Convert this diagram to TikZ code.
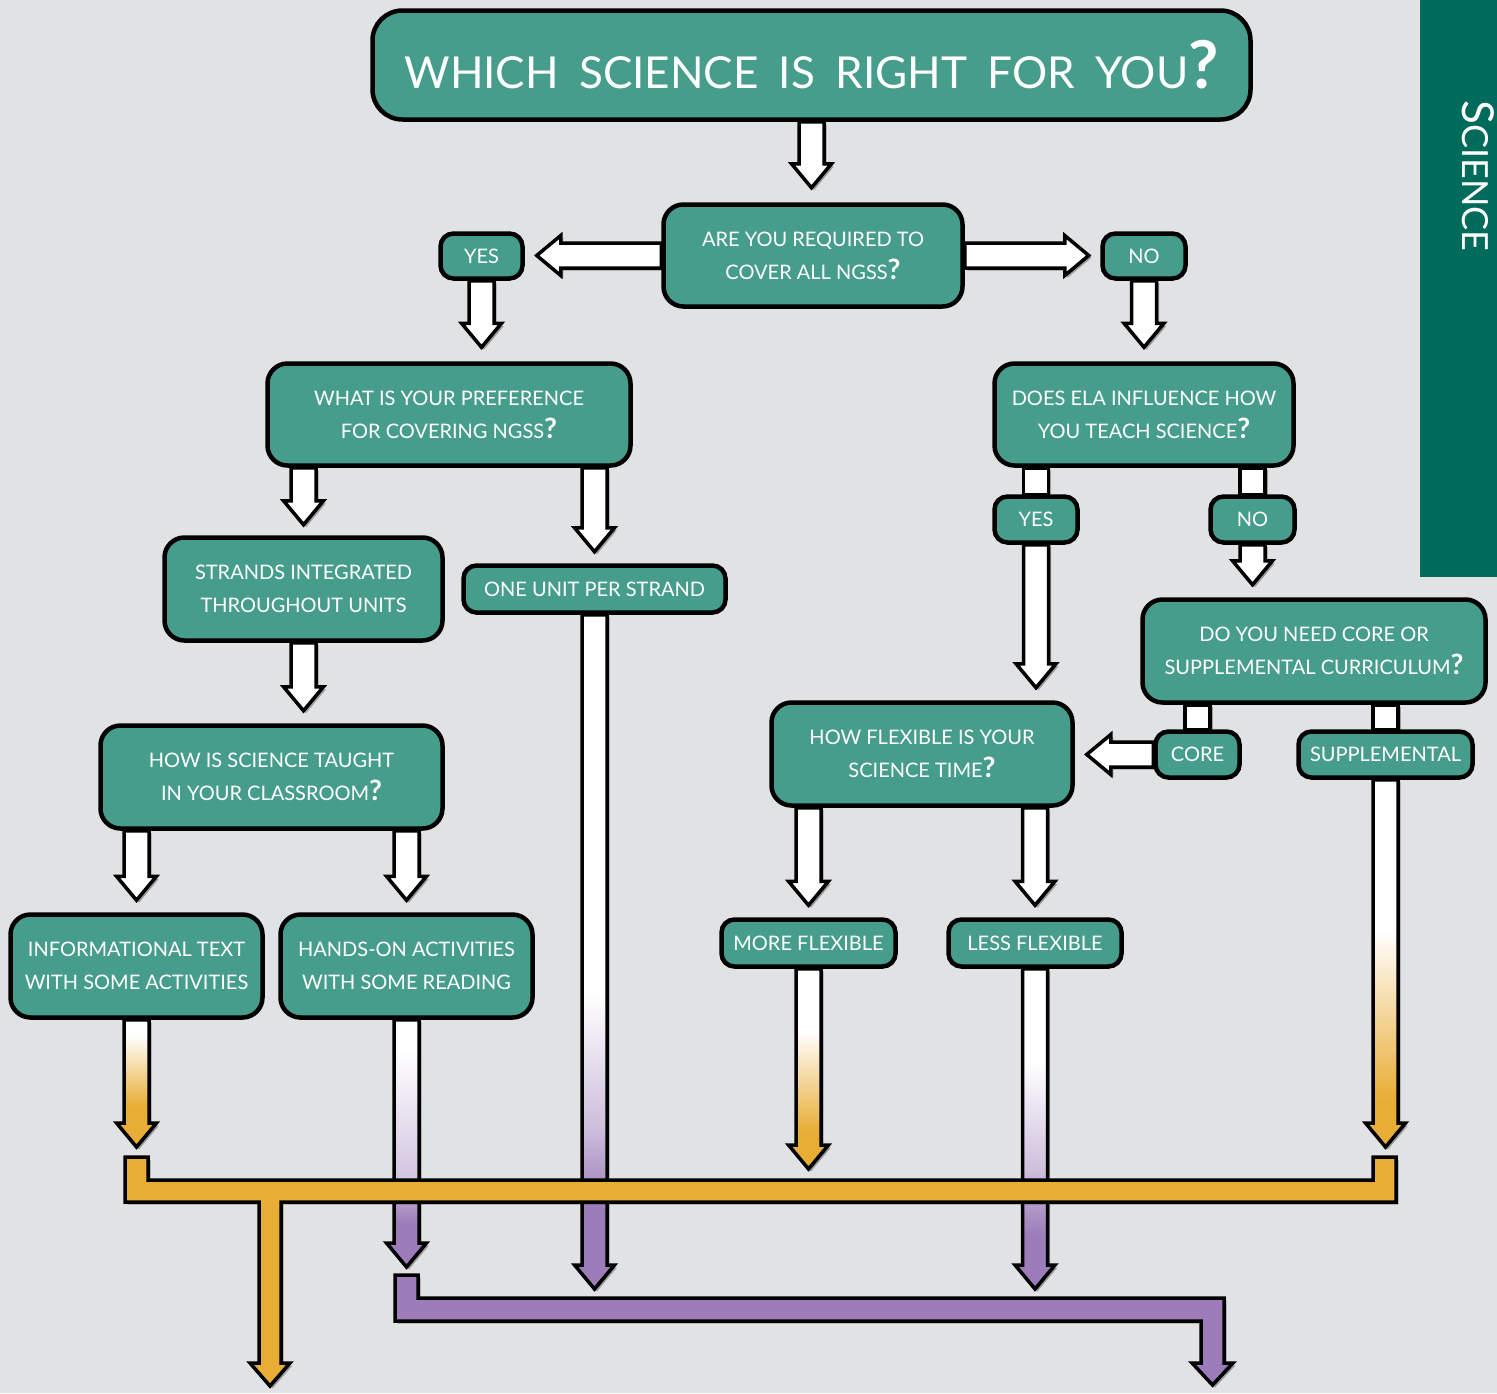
\documentclass[tikz,border=0pt]{standalone}
\usepackage{graphicx}
\usepackage{fontspec}
\setmainfont{Lato}
\newfontfamily\titlefont{Lato}[WordSpace=1.8]
\usetikzlibrary{calc,shadows}
\definecolor{bgc}{HTML}{E1E2E4}
\definecolor{boxteal}{HTML}{479D8B}
\definecolor{sidegreen}{HTML}{006B5B}
\definecolor{orng}{HTML}{E8AD35}
\definecolor{purp}{HTML}{9C7DB9}
\pgfdeclarelayer{bg}
\pgfdeclarelayer{arr}
\pgfsetlayers{bg,arr,main}
% vertical shadings: 25bp = bottom of path, 75bp = top of path
\pgfdeclareverticalshading{shInfo}{100bp}{color(0bp)=(orng); color(41bp)=(orng); color(69bp)=(white); color(100bp)=(white)}
\pgfdeclareverticalshading{shMore}{100bp}{color(0bp)=(orng); color(34.5bp)=(orng); color(59.5bp)=(white); color(100bp)=(white)}
\pgfdeclareverticalshading{shSupp}{100bp}{color(0bp)=(orng); color(31.5bp)=(orng); color(54.5bp)=(white); color(100bp)=(white)}
\pgfdeclareverticalshading{shHands}{100bp}{color(0bp)=(purp); color(34bp)=(purp); color(43bp)=(purp!45); color(69bp)=(white); color(100bp)=(white)}
\pgfdeclareverticalshading{shOne}{100bp}{color(0bp)=(purp); color(31bp)=(purp); color(37bp)=(purp!50); color(47bp)=(white); color(100bp)=(white)}
\pgfdeclareverticalshading{shLess}{100bp}{color(0bp)=(purp); color(33.5bp)=(purp); color(43.5bp)=(purp!50); color(60.5bp)=(white); color(100bp)=(white)}
\newcommand\qm{\scalebox{1.4}{\textbf{?}}}
\newcommand\bigqm{\scalebox{1.5}{\textbf{?}}}
\tikzset{
  box/.style={draw=black, line width=4.5pt, fill=boxteal, rounded corners=20pt,
    text=white, align=center, inner sep=0pt, font=\fontsize{20}{33}\selectfont},
  sbox/.style={box, rounded corners=13pt},
  shad/.style={drop shadow={shadow xshift=2.5pt, shadow yshift=-2.5pt, opacity=0.3, fill=black}},
  arrw/.style={draw=black, line width=3.5pt, fill=white, line join=miter, shad},
  garrw/.style={draw=black, line width=3.5pt, line join=miter, shad, shade, shading=#1},
  bdown/.style={to path={let \p1=(\tikztostart), \p2=(\tikztotarget) in
    (\x1-12.5pt,\y1) -- (\x1-12.5pt,\y2+24pt) -- (\x1-20pt,\y2+24pt) -- (\x1,\y2)
    -- (\x1+20pt,\y2+24pt) -- (\x1+12.5pt,\y2+24pt) -- (\x1+12.5pt,\y1) -- cycle}},
  bleft/.style={to path={let \p1=(\tikztostart), \p2=(\tikztotarget) in
    (\x1,\y1-12.5pt) -- (\x2+24pt,\y1-12.5pt) -- (\x2+24pt,\y1-20pt) -- (\x2,\y1)
    -- (\x2+24pt,\y1+20pt) -- (\x2+24pt,\y1+12.5pt) -- (\x1,\y1+12.5pt) -- cycle}},
  bright/.style={to path={let \p1=(\tikztostart), \p2=(\tikztotarget) in
    (\x1,\y1-12.5pt) -- (\x2-24pt,\y1-12.5pt) -- (\x2-24pt,\y1-20pt) -- (\x2,\y1)
    -- (\x2-24pt,\y1+20pt) -- (\x2-24pt,\y1+12.5pt) -- (\x1,\y1+12.5pt) -- cycle}},
  bbar/.style={to path={let \p1=(\tikztostart), \p2=(\tikztotarget) in
    (\x1-12.5pt,\y1) rectangle (\x1+12.5pt,\y2)}},
  mergebar/.style={draw=black, line width=3.5pt, line join=miter, shad, fill=#1},
}
\begin{document}
\begin{tikzpicture}[x=1pt,y=-1pt]
\begin{pgfonlayer}{bg}
  \fill[bgc] (0,0) rectangle (1497,1393);
  \fill[sidegreen] (1420,0) rectangle (1497,577);
\end{pgfonlayer}
\useasboundingbox (0,0) rectangle (1497,1393);

\node[rotate=-90, anchor=base west, text=white, inner sep=0pt] (side) at (1462,100)
  {{\fontsize{44}{44}\selectfont S}{\fontsize{36}{36}\selectfont CIENCE}};

% boxes
\node[box, rounded corners=30pt, minimum width=878pt, minimum height=109pt,
  font=\titlefont\fontsize{44}{44}\selectfont] (title) at (811.5,65) {WHICH SCIENCE IS RIGHT FOR YOU\bigqm};
\node[box, minimum width=299pt, minimum height=102pt] (q1) at (813,255.5) {ARE YOU REQUIRED TO\\COVER ALL NGSS\qm};
\node[sbox, minimum width=82pt, minimum height=45pt] (yes1) at (481.5,256) {YES};
\node[sbox, minimum width=83pt, minimum height=45pt] (no1) at (1144,256) {NO};
\node[box, minimum width=363pt, minimum height=102pt] (q2) at (449,414.5) {WHAT IS YOUR PREFERENCE\\FOR COVERING NGSS\qm};
\node[box, minimum width=299pt, minimum height=102pt] (q3) at (1144,414.5) {DOES ELA INFLUENCE HOW\\YOU TEACH SCIENCE\qm};
\node[box, minimum width=278pt, minimum height=103pt] (strands) at (303.5,589) {STRANDS INTEGRATED\\THROUGHOUT UNITS};
\node[sbox, minimum width=262pt, minimum height=47pt] (one) at (594.5,589) {ONE UNIT PER STRAND};
\node[sbox, minimum width=83pt, minimum height=46pt] (yes2) at (1036,519.5) {YES};
\node[sbox, minimum width=84pt, minimum height=46pt] (no2) at (1252.5,519.5) {NO};
\node[box, minimum width=343pt, minimum height=103pt] (q4) at (1314,651) {DO YOU NEED CORE OR\\SUPPLEMENTAL CURRICULUM\qm};
\node[box, minimum width=301pt, minimum height=103pt] (q5) at (922,754) {HOW FLEXIBLE IS YOUR\\SCIENCE TIME\qm};
\node[sbox, minimum width=84pt, minimum height=46pt] (core) at (1197.5,754.5) {CORE};
\node[sbox, minimum width=174pt, minimum height=46pt] (supp) at (1385.5,754.5) {SUPPLEMENTAL};
\node[box, minimum width=342pt, minimum height=103pt] (q6) at (271.5,777) {HOW IS SCIENCE TAUGHT\\IN YOUR CLASSROOM\qm};
\node[box, minimum width=252pt, minimum height=103pt] (info) at (136.5,966) {INFORMATIONAL TEXT\\WITH SOME ACTIVITIES};
\node[box, minimum width=252pt, minimum height=103pt] (hands) at (406.5,966) {HANDS-ON ACTIVITIES\\WITH SOME READING};
\node[sbox, minimum width=174pt, minimum height=47pt] (more) at (808.5,943) {MORE FLEXIBLE};
\node[sbox, minimum width=173pt, minimum height=47pt] (less) at (1035,943) {LESS FLEXIBLE};

% tip coordinates of the final arrows
\coordinate (tInfo) at (136.5,1147);
\coordinate (tHands) at (406.5,1267);
\coordinate (tOne) at (594.5,1289);
\coordinate (tMore) at (808.5,1169);
\coordinate (tLess) at (1035,1289);
\coordinate (tSupp) at (1385.5,1147);

\begin{pgfonlayer}{arr}
  % purple gradient arrows (behind the orange bar)
  \draw[garrw=shHands, bdown] (hands.south) to (tHands);
  \draw[garrw=shOne, bdown] (one.south) to (tOne);
  \draw[garrw=shLess, bdown] (less.south) to (tLess);
  % orange merge bar with its down arrow
  \draw[mergebar=orng] (125,1157) -- (148,1157) -- (148,1180) -- (1373,1180) -- (1373,1157)
    -- (1396,1157) -- (1396,1202) -- (281,1202) -- (281,1363) -- (290,1363) -- (270,1386)
    -- (250,1363) -- (259,1363) -- (259,1202) -- (125,1202) -- cycle;
  % purple merge bar with its down arrow
  \draw[mergebar=purp] (395,1275) -- (418,1275) -- (418,1298) -- (1224,1298) -- (1224,1363)
    -- (1233,1363) -- (1212.5,1385) -- (1192,1363) -- (1201,1363) -- (1201,1321)
    -- (395,1321) -- cycle;
  % orange gradient arrows
  \draw[garrw=shInfo, bdown] (info.south) to (tInfo);
  \draw[garrw=shMore, bdown] (more.south) to (tMore);
  \draw[garrw=shSupp, bdown] (supp.south) to (tSupp);
  % white arrows
  \draw[arrw, bdown] (title.south) to ([yshift=14.5pt]q1.north);
  \draw[arrw, bleft] (q1.west) to ([xshift=12pt]yes1.east);
  \draw[arrw, bright] (q1.east) to ([xshift=-11.5pt]no1.west);
  \draw[arrw, bdown] (yes1.south) to ([yshift=14pt]q2.north);
  \draw[arrw, bdown] (no1.south) to ([yshift=14pt]q3.north);
  \draw[arrw, bdown] (q2.south -| strands.north) to ([yshift=10.5pt]strands.north);
  \draw[arrw, bdown] (q2.south -| one.north) to ([yshift=11.5pt]one.north);
  \draw[arrw, bdown] (strands.south) to ([yshift=12.5pt]q6.north);
  \draw[arrw, bbar] (q3.south -| yes2.north) to (yes2.north);
  \draw[arrw, bbar] (q3.south -| no2.north) to (no2.north);
  \draw[arrw, bdown] (yes2.south) to ([yshift=12.5pt]q5.north);
  \draw[arrw, bdown] (no2.south) to ([yshift=12.5pt]q4.north);
  \draw[arrw, bbar] (q4.south -| core.north) to (core.north);
  \draw[arrw, bbar] (q4.south -| supp.north) to (supp.north);
  \draw[arrw, bleft] (core.west) to ([xshift=12pt]q5.east);
  \draw[arrw, bdown] (q6.south -| info.north) to ([yshift=12pt]info.north);
  \draw[arrw, bdown] (q6.south -| hands.north) to ([yshift=12pt]hands.north);
  \draw[arrw, bdown] (q5.south -| more.north) to ([yshift=12pt]more.north);
  \draw[arrw, bdown] (q5.south -| less.north) to ([yshift=12pt]less.north);
\end{pgfonlayer}
\end{tikzpicture}
\end{document}
